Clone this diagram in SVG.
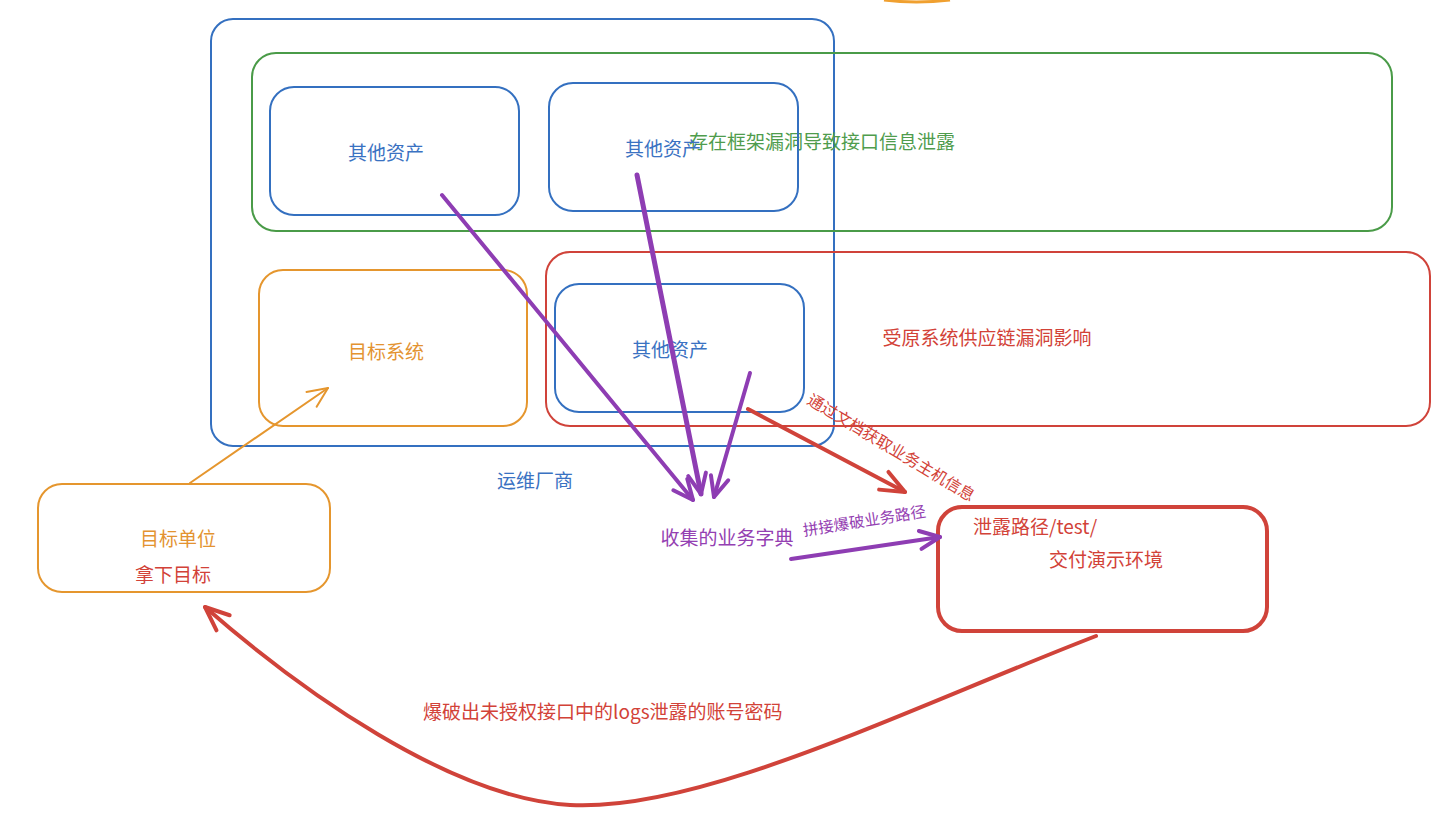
<svg xmlns="http://www.w3.org/2000/svg" width="1444" height="826" viewBox="0 0 1444 826">
<style>
text{font-family:"Noto Sans CJK SC","Noto Sans",sans-serif;font-size:19px}
.box{fill:none;stroke-width:2;stroke-linecap:round}
.blue{stroke:#3470c0}
.green{stroke:#4a9b48}
.red{stroke:#d0433a}
.orange{stroke:#e5962e}
.tb{fill:#3a72c2}
.tg{fill:#4f9c4d}
.tr{fill:#d24238}
.to{fill:#e39331}
.tp{fill:#9440b2}
.arr{fill:none;stroke-linecap:round;stroke-linejoin:round}
</style>
<defs>
<marker id="mp" markerUnits="userSpaceOnUse" viewBox="-24 -14 28 28" refX="0" refY="0" markerWidth="28" markerHeight="28" orient="auto">
<path d="M-20,-9 L0,0 L-20,9" fill="none" stroke="#8e3db3" stroke-width="4" stroke-linecap="round" stroke-linejoin="round"/>
</marker>
<marker id="mr" markerUnits="userSpaceOnUse" viewBox="-28 -16 32 32" refX="0" refY="0" markerWidth="32" markerHeight="32" orient="auto">
<path d="M-24,-10 L0,0 L-24,10" fill="none" stroke="#d0433a" stroke-width="4" stroke-linecap="round" stroke-linejoin="round"/>
</marker>
<marker id="mo" markerUnits="userSpaceOnUse" viewBox="-24 -14 28 28" refX="0" refY="0" markerWidth="28" markerHeight="28" orient="auto">
<path d="M-20,-9 L0,0 L-20,9" fill="none" stroke="#e5962e" stroke-width="2" stroke-linecap="round" stroke-linejoin="round"/>
</marker>
</defs>
<rect width="1444" height="826" fill="#ffffff"/>
<path d="M884,0 Q916,4 950,0" fill="none" stroke="#f0a030" stroke-width="3"/>

<g id="vendor">
<rect class="box blue" x="211" y="19" width="623" height="427" rx="22"/>
<text class="tb" x="535" y="488" text-anchor="middle">运维厂商</text>
</g>
<g id="framework">
<rect class="box green" x="252" y="53" width="1140" height="178" rx="24"/>
<text class="tg" x="822" y="149" text-anchor="middle">存在框架漏洞导致接口信息泄露</text>
</g>
<g id="asset1">
<rect class="box blue" x="270" y="87" width="249" height="128" rx="24"/>
<text class="tb" x="386" y="160" text-anchor="middle">其他资产</text>
</g>
<g id="asset2">
<rect class="box blue" x="549" y="83" width="249" height="128" rx="24"/>
<text class="tb" x="663" y="156" text-anchor="middle">其他资产</text>
</g>
<g id="supply">
<rect class="box red" x="546" y="252" width="884" height="174" rx="24"/>
<text class="tr" x="987" y="345" text-anchor="middle">受原系统供应链漏洞影响</text>
</g>
<g id="asset3">
<rect class="box blue" x="555" y="284" width="249" height="128" rx="24"/>
<text class="tb" x="670" y="357" text-anchor="middle">其他资产</text>
</g>
<g id="target-system">
<rect class="box orange" x="259" y="270" width="268" height="156" rx="24"/>
<text class="to" x="386" y="359" text-anchor="middle">目标系统</text>
</g>
<g id="target-unit">
<rect class="box orange" x="38" y="484" width="292" height="108" rx="24"/>
<text class="to" x="178" y="546" text-anchor="middle">目标单位</text>
<text class="tr" x="173" y="582" text-anchor="middle">拿下目标</text>
</g>
<g id="dict">
<text class="tp" x="727" y="545" text-anchor="middle">收集的业务字典</text>
</g>
<g id="demo-env">
<rect class="box red" x="938" y="507" width="329" height="124" rx="24" style="stroke-width:4"/>
<text class="tr" x="973" y="534">泄露路径/test/</text>
<text class="tr" x="1106" y="567" text-anchor="middle">交付演示环境</text>
</g>

<g id="connectors">
<path class="arr" d="M442,195 L693,500" stroke="#8e3db3" stroke-width="4" marker-end="url(#mp)"/>
<path class="arr" d="M637,175 L701,494" stroke="#8e3db3" stroke-width="5" marker-end="url(#mp)"/>
<path class="arr" d="M750,373 L714,497" stroke="#8e3db3" stroke-width="4" marker-end="url(#mp)"/>
<path class="arr" d="M748,409 L905,492" stroke="#d0433a" stroke-width="4" marker-end="url(#mr)"/>
<path class="arr" d="M791,559 L940,537" stroke="#8e3db3" stroke-width="4" marker-end="url(#mp)"/>
<path class="arr" d="M190,483 L328,388" stroke="#e5962e" stroke-width="2" marker-end="url(#mo)"/>
<path class="arr" d="M1096,636 C900,712 700,812 570,805 C450,798 300,690 205,607" stroke="#d0433a" stroke-width="4" marker-end="url(#mr)"/>
<text class="tr" transform="translate(806,403) rotate(31)" style="font-size:16px">通过文档获取业务主机信息</text>
<text class="tp" transform="translate(804,536) rotate(-9)" style="font-size:15.5px">拼接爆破业务路径</text>
<text class="tr" x="423" y="719">爆破出未授权接口中的logs泄露的账号密码</text>
</g>
</svg>
